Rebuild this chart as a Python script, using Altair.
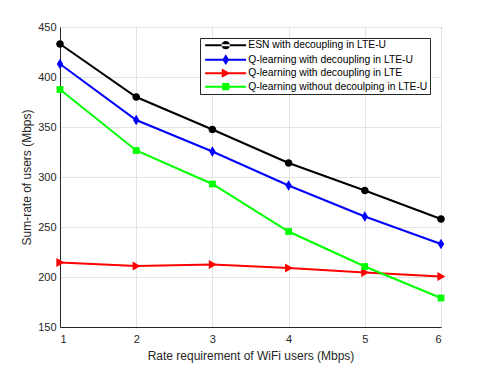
import altair as alt
import pandas as pd

x_vals = [1, 2, 3, 4, 5, 6]
series_names = [
    "ESN with decoupling in LTE-U",
    "Q-learning with decoupling in LTE-U",
    "Q-learning with decoupling in LTE",
    "Q-learning without decoulping in LTE-U",
]
esn_lteu = [433, 380, 347.5, 314, 286.5, 258]
q_dec_lteu = [413, 357, 325.5, 291.5, 260.5, 233]
q_dec_lte = [214.5, 211, 212.5, 209, 204.5, 200.5]
q_nodec_lteu = [387.5, 326.5, 293, 245.5, 210.5, 179]

colors = ["#000000", "#0000ff", "#ff0000", "#00ff00"]
plot_shapes = [
    "M-0.95,0A0.95,0.95 0 1,0 0.95,0A0.95,0.95 0 1,0 -0.95,0Z",
    "M0,-1.3L0.8,0L0,1.3L-0.8,0Z",
    "M-0.9,-1.1L1.1,0L-0.9,1.1Z",
    "M-0.85,-0.85L0.85,-0.85L0.85,0.85L-0.85,0.85Z",
]
# legend symbols: a thin filled bar (the line) with the marker in its middle
seg = "M-0.5,-0.25L9.75,-0.25L9.75,0.25L-0.5,0.25Z"
legend_shapes = [
    seg + "M3.6,0A1.05,1.05 0 1,0 5.7,0A1.05,1.05 0 1,0 3.6,0Z",
    seg + "M4.65,-1.35L5.5,0L4.65,1.35L3.8,0Z",
    seg + "M3.65,-1.15L5.8,0L3.65,1.15Z",
    seg + "M3.75,-0.9L5.55,-0.9L5.55,0.9L3.75,0.9Z",
]

rows = []
for name, vals in zip(series_names, [esn_lteu, q_dec_lteu, q_dec_lte, q_nodec_lteu]):
    for xv, yv in zip(x_vals, vals):
        rows.append({"x": xv, "y": yv, "series": name})
df = pd.DataFrame(rows)

FONT = "Liberation Sans"
TXT = "#262626"

x_enc = alt.X("x:Q", scale=alt.Scale(domain=[1, 6], nice=False),
              axis=alt.Axis(title="Rate requirement of WiFi users (Mbps)", values=x_vals,
                            format="d", labelPadding=6))
y_enc = alt.Y("y:Q", scale=alt.Scale(domain=[150, 450], nice=False),
              axis=alt.Axis(title="Sum-rate of users (Mbps)", values=[150, 200, 250, 300, 350, 400, 450],
                            labelPadding=4, titlePadding=4))
# plot colours: domain taken from data (sorted in series order), no legend
color_enc = alt.Color("series:N", sort=series_names, scale=alt.Scale(range=colors), legend=None)

base = alt.Chart(df)

lines = base.mark_line(strokeWidth=2).encode(x=x_enc, y=y_enc, color=color_enc)

point_layers = []
for name, shp in zip(series_names, plot_shapes):
    point_layers.append(
        base.mark_point(filled=True, size=64, opacity=1, shape=shp).encode(
            x=x_enc, y=y_enc, color=color_enc,
        ).transform_filter(alt.datum.series == name)
    )

legend_layer = base.mark_point(filled=True, size=64, opacity=1).encode(
    x=x_enc, y=y_enc,
    fill=alt.Fill("series:N", scale=alt.Scale(domain=series_names, range=colors), legend=alt.Legend(title=None)),
    shape=alt.Shape("series:N", scale=alt.Scale(domain=series_names, range=legend_shapes),
                    legend=alt.Legend(title=None)),
).transform_filter("datum.x < 0")

chart = alt.layer(lines, *point_layers, legend_layer).properties(
    width=381, height=300,
    padding={"left": 12, "top": 13, "right": 5, "bottom": 5},
).configure_view(
    stroke=TXT, strokeWidth=1
).configure_axis(
    labelFont=FONT, titleFont=FONT, labelFontSize=11, titleFontSize=12,
    labelColor=TXT, titleColor=TXT, titleFontWeight="normal",
    domainColor=TXT, gridColor="#e3e3e3", grid=True, ticks=False,
).configure_axisX(titlePadding=6).configure_legend(
    orient="top-right", offset=11, padding=2, strokeColor=TXT, fillColor="white",
    labelFont=FONT, labelFontSize=10.3, labelColor="#000000", labelOffset=36,
    labelLimit=400, rowPadding=2.5, symbolSize=64, symbolStrokeWidth=0, symbolOpacity=1,
    cornerRadius=0,
)

chart.save("out.html", embed_options={"renderer": "svg", "actions": False})
